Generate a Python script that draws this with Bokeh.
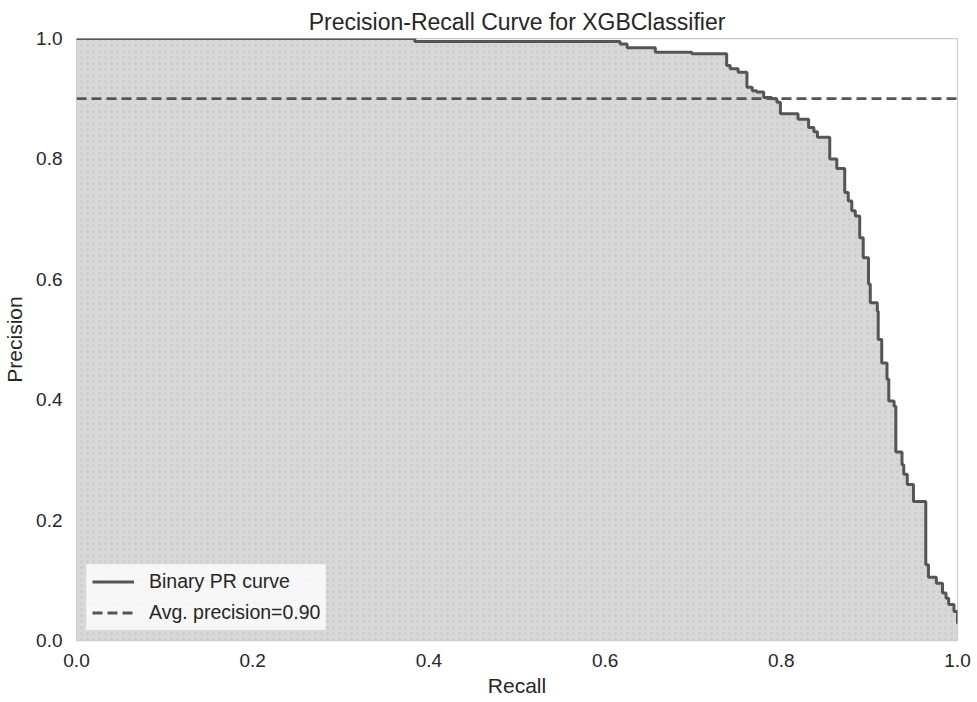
from bokeh.plotting import figure
from bokeh.models import Range1d, Legend, LegendItem, FixedTicker, PrintfTickFormatter
from bokeh.embed import file_html
from bokeh.resources import INLINE

# Step points of the PR curve (recall start of each level, precision level)
recall = [0.0, 0.384, 0.617, 0.625, 0.657, 0.6985, 0.738, 0.742, 0.751, 0.761,
          0.767, 0.772, 0.780, 0.789, 0.795, 0.799, 0.819, 0.831, 0.837, 0.841,
          0.855, 0.863, 0.872, 0.876, 0.880, 0.884, 0.889, 0.893, 0.899, 0.901,
          0.909, 0.910, 0.914, 0.920, 0.922, 0.928, 0.930, 0.937, 0.939, 0.943,
          0.950, 0.964, 0.967, 0.976, 0.983, 0.987, 0.990, 0.996, 1.0]
precision = [1.0, 0.995, 0.991, 0.9845, 0.977, 0.9745, 0.955, 0.9496, 0.944, 0.919,
             0.913, 0.911, 0.902, 0.900, 0.894, 0.875, 0.866, 0.852, 0.845, 0.836,
             0.800, 0.784, 0.744, 0.730, 0.714, 0.705, 0.669, 0.636, 0.592, 0.561,
             0.547, 0.500, 0.461, 0.434, 0.398, 0.389, 0.313, 0.292, 0.276, 0.259,
             0.231, 0.126, 0.105, 0.095, 0.079, 0.070, 0.060, 0.048, 0.028]
avg_precision = 0.90
ticks = [0.0, 0.2, 0.4, 0.6, 0.8, 1.0]

FONT = "Liberation Sans"
TXT = "#262626"
LINE = "#555555"

p = figure(width=977, height=702, output_backend="svg", toolbar_location=None,
           x_range=Range1d(0, 1), y_range=Range1d(0, 1),
           min_border_left=76, min_border_right=20, min_border_top=38,
           min_border_bottom=62, title="Precision-Recall Curve for XGBClassifier")

p.title.align = "center"
p.title.text_font = FONT
p.title.text_font_size = "23px"
p.title.text_font_style = "normal"
p.title.text_color = TXT
p.title.standoff = 8

p.xgrid.visible = False
p.ygrid.visible = False
p.outline_line_color = "#cccccc"
p.outline_line_width = 1.25
p.background_fill_color = "white"
p.border_fill_color = "white"

for ax in (p.xaxis[0], p.yaxis[0]):
    ax.ticker = FixedTicker(ticks=ticks)
    ax.formatter = PrintfTickFormatter(format="%.1f")
    ax.axis_line_color = None
    ax.major_tick_line_color = None
    ax.minor_tick_line_color = None
    ax.major_tick_out = 0
    ax.major_tick_in = 0
    ax.major_label_text_font = FONT
    ax.major_label_text_font_size = "19px"
    ax.major_label_text_color = TXT
    ax.axis_label_text_font = FONT
    ax.axis_label_text_font_size = "21px"
    ax.axis_label_text_font_style = "normal"
    ax.axis_label_text_color = TXT

p.xaxis.axis_label = "Recall"
p.yaxis.axis_label = "Precision"
p.xaxis.major_label_standoff = 13
p.yaxis.major_label_standoff = 14
p.xaxis.axis_label_standoff = 4
p.yaxis.axis_label_standoff = 7

p.varea_step(x=recall, y1=[0.0] * len(recall), y2=precision, step_mode="after",
             fill_color="#d8d8d8", hatch_pattern=".", hatch_color="#b0b0b0",
             hatch_alpha=0.3, hatch_scale=6, hatch_weight=1)

curve = p.step(x=recall, y=precision, mode="after", line_color=LINE, line_width=3)
ap_line = p.line(x=[recall[0], recall[-1]], y=[avg_precision, avg_precision],
                 line_color=LINE, line_width=2.8, line_dash="10 5")

legend = Legend(items=[LegendItem(label="Binary PR curve", renderers=[curve]),
                       LegendItem(label="Avg. precision=%.2f" % avg_precision, renderers=[ap_line])],
                location="bottom_left")
legend.margin = 10
legend.padding = 5
legend.spacing = 8
legend.glyph_width = 42
legend.glyph_height = 23
legend.label_height = 23
legend.label_standoff = 15
legend.label_text_font = FONT
legend.label_text_font_size = "19.5px"
legend.label_text_color = TXT
legend.background_fill_color = "white"
legend.background_fill_alpha = 0.8
legend.border_line_color = "#eeeeee"
legend.border_line_alpha = 0.9
p.add_layout(legend)

open("out.html", "w").write(file_html(p, INLINE))
